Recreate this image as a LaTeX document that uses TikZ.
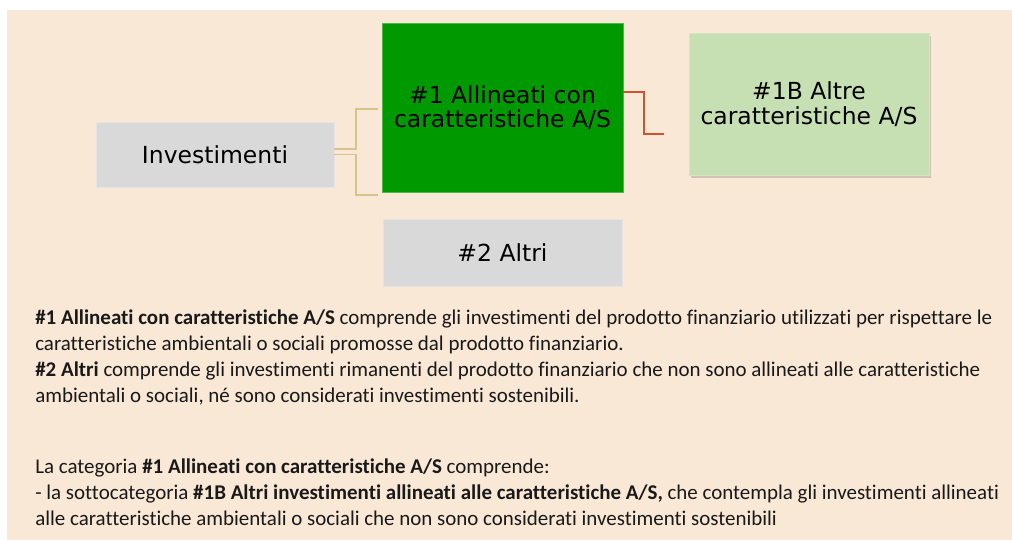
\documentclass[tikz,border=0pt]{standalone}
\usepackage{fontspec}
\setmainfont{Carlito}[Ligatures=NoCommon]
\newfontfamily\boxfont{DejaVu Sans}
\usetikzlibrary{shadows}

\definecolor{pagebeige}{HTML}{FAE8D7}
\definecolor{boxgray}{HTML}{D9D9D9}
\definecolor{darkgreen}{HTML}{009A00}
\definecolor{palegreen}{HTML}{C6E0B4}
\definecolor{tanline}{HTML}{D8C38C}
\definecolor{rustline}{HTML}{D2522E}

\begin{document}
\begin{tikzpicture}[x=0.025cm, y=-0.025cm,
    box/.style={rectangle, inner sep=0pt, align=center, font=\boxfont\fontsize{16.7}{17.5}\selectfont},
    txt/.style={anchor=base west, inner sep=0pt, text=black!90, font=\fontsize{14.9}{18}\selectfont}]
    \useasboundingbox (0,0) rectangle (1012,540);
    \fill[pagebeige] (7,10) rectangle (1012,540);

    \node[box, fill=boxgray, draw=boxgray!70!white, minimum width=5.95cm, minimum height=1.625cm] (inv) at (215,154.5) {Investimenti};
    \node[box, fill=darkgreen, draw=darkgreen!70!white, minimum width=6.025cm, minimum height=4.225cm] (grn) at (502.5,107.5) {\#1 Allineati con\\caratteristiche A/S};
    \node[box, fill=palegreen, draw=palegreen!80!white, minimum width=6cm, minimum height=3.55cm,
        drop shadow={opacity=0.35, shadow xshift=1.5pt, shadow yshift=-2pt}] (alt) at (809,104) {\#1B Altre\\caratteristiche A/S};
    \node[box, fill=boxgray, draw=boxgray!70!white, minimum width=5.975cm, minimum height=1.675cm] (oth) at (502.5,252.5) {\#2 Altri};

    \coordinate (brtop) at (378,109);
    \coordinate (brbot) at (378,195);
    \coordinate (redend) at (664,134);

    \draw[tanline, line width=1.3pt] ([yshift=4pt]inv.east) -- ++(22,0) |- (brtop);
    \draw[tanline, line width=1.3pt] (inv.east) -- ++(22,0) |- (brbot);
    \draw[rustline, line width=1.6pt] ([yshift=11pt]grn.east) -- ++(21,0) |- (redend);

    \node[txt] (l1) at (35,324) {\textbf{\#1 Allineati con caratteristiche A/S} comprende gli investimenti del prodotto finanziario utilizzati per rispettare le};
    \node[txt] (l2) at (35,350) {caratteristiche ambientali o sociali promosse dal prodotto finanziario.};
    \node[txt] (l3) at (35,376) {\textbf{\#2 Altri} comprende gli investimenti rimanenti del prodotto finanziario che non sono allineati alle caratteristiche};
    \node[txt] (l4) at (35,402) {ambientali o sociali, né sono considerati investimenti sostenibili.};
    \node[txt] (l5) at (35,473) {La categoria \textbf{\#1 Allineati con caratteristiche A/S} comprende:};
    \node[txt] (l6) at (35,499) {- la sottocategoria \textbf{\#1B Altri investimenti allineati alle caratteristiche A/S,} che contempla gli investimenti allineati};
    \node[txt] (l7) at (35,525) {alle caratteristiche ambientali o sociali che non sono considerati investimenti sostenibili};
\end{tikzpicture}
\end{document}
